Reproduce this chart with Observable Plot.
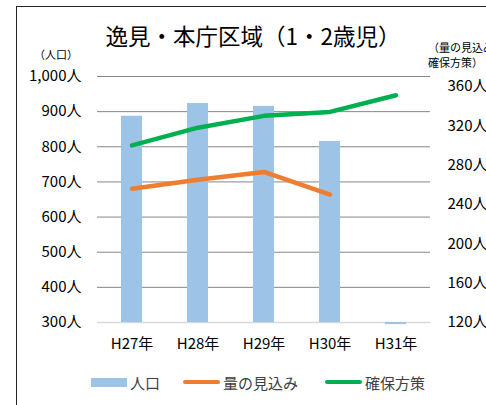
<!DOCTYPE html>
<html><head><meta charset="utf-8">
<script src="https://cdn.jsdelivr.net/npm/d3@7"></script>
<script src="https://cdn.jsdelivr.net/npm/@observablehq/plot@0.6"></script>
<style>
body{margin:0;background:#fff;font-family:"Noto Sans CJK JP","Noto Sans",sans-serif;}
#wrap{position:relative;width:486px;height:405px;overflow:hidden;}
#frame{position:absolute;left:16px;top:6px;width:600px;height:600px;border-left:1.5px solid #222;border-top:1.5px solid #222;}
#title{position:absolute;left:0;width:506px;top:19px;text-align:center;font-size:22.5px;color:#000;}
.hdr{position:absolute;font-size:11px;color:#000;line-height:15px;white-space:nowrap;}
#legend{position:absolute;top:372px;left:0;height:20px;font-size:15px;color:#404040;}
.li{position:absolute;display:flex;align-items:center;height:20px;white-space:nowrap;}
.sw{display:inline-block;margin-right:3px;}
#chart{position:absolute;left:0;top:0;}
</style></head>
<body>
<div id="wrap">
  <div id="frame"></div>
  <div id="chart"></div>
  <div id="title">逸見・本庁区域（1・2歳児）</div>
  <div class="hdr" style="left:34px;top:47px;">（人口）</div>
  <div class="hdr" style="left:428px;top:40px;">（量の見込み・<br>確保方策）</div>
  <div id="legend"></div>
</div>
<script>
const years = ["H27年", "H28年", "H29年", "H30年", "H31年"];
const population = [887, 923, 915, 815, 294];
const demand = [256, 265, 273, 250, null];
const supply = [300, 318, 330, 334, 351];
const leftTicks = [300, 400, 500, 600, 700, 800, 900, 1000];
const rightTicks = [120, 160, 200, 240, 280, 320, 360];
const seriesNames = ["人口", "量の見込み", "確保方策"];
const colors = ["#9dc3e6", "#ed7d31", "#00b050"];

// right axis [120,370] mapped onto left axis [300,1000]
const toLeft = d3.scaleLinear([120, 370], [300, 1000]);

const barData = years.map((y, i) => ({year: y, v: population[i]}));
const demandData = years.map((y, i) => ({year: y, v: demand[i] == null ? null : toLeft(demand[i])})).filter(d => d.v != null);
const supplyData = years.map((y, i) => ({year: y, v: toLeft(supply[i])}));

const chart = Plot.plot({
  width: 486, height: 405,
  marginTop: 76, marginBottom: 83, marginLeft: 97, marginRight: 56,
  style: {fontFamily: '"Noto Sans CJK JP", sans-serif', fontSize: "15px", color: "#000", background: "transparent", overflow: "visible"},
  x: {domain: years, paddingInner: 0.68, paddingOuter: 0.34},
  y: {domain: [300, 1000], clamp: false},
  marks: [
    Plot.ruleY(leftTicks.slice(1), {stroke: "#868686", strokeWidth: 1}),
    Plot.ruleY([300], {stroke: "#d9d9d9", strokeWidth: 1.5}),
    Plot.barY(barData, {x: "year", y1: 300, y2: "v", fill: colors[0]}),
    Plot.lineY(demandData, {x: "year", y: "v", stroke: colors[1], strokeWidth: 4.5, strokeLinecap: "round", strokeLinejoin: "round"}),
    Plot.lineY(supplyData, {x: "year", y: "v", stroke: colors[2], strokeWidth: 4.5, strokeLinecap: "round", strokeLinejoin: "round"}),
    Plot.axisY(leftTicks, {anchor: "left", tickSize: 0, tickPadding: 16, label: null, tickFormat: d => d3.format(",")(d) + "人", fontSize: 15}),
    Plot.axisY(rightTicks.map(toLeft), {anchor: "right", tickSize: 0, tickPadding: 17, label: null, tickFormat: d => Math.round(toLeft.invert(d)) + "人", fontSize: 15}),
    Plot.axisX({tickSize: 0, tickPadding: 16, label: null, fontSize: 15})
  ]
});
document.getElementById("chart").appendChild(chart);

// legend
const lg = document.getElementById("legend");
const lx = [91, 183, 325];
seriesNames.forEach((name, i) => {
  const item = document.createElement("div");
  item.className = "li";
  item.style.left = lx[i] + "px";
  const sw = document.createElement("span");
  sw.className = "sw";
  if (i === 0) { sw.style.width = "36px"; sw.style.height = "9px"; sw.style.background = colors[i]; }
  else { sw.style.width = "37px"; sw.style.height = "4.5px"; sw.style.borderRadius = "3px"; sw.style.background = colors[i]; }
  item.appendChild(sw);
  const t = document.createElement("span");
  t.textContent = name;
  item.appendChild(t);
  lg.appendChild(item);
});
</script>
</body></html>
